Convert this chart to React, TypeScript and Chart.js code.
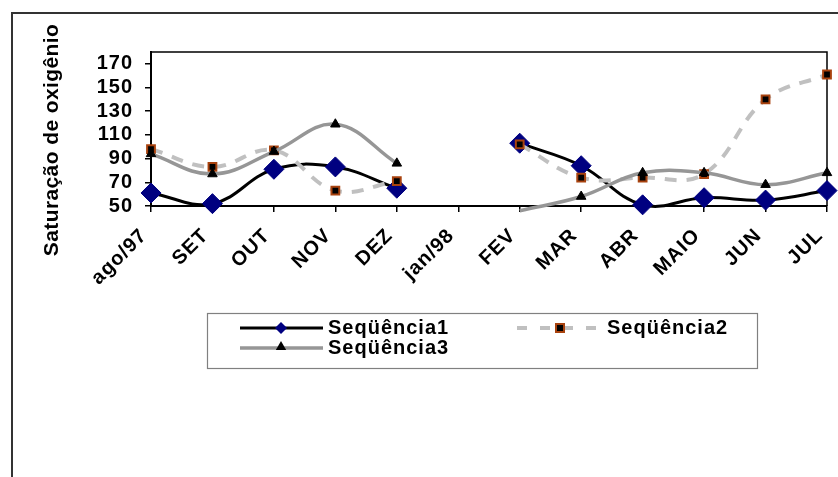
import React, { useEffect, useRef } from 'react';
import { Chart, registerables } from 'chart.js';

Chart.register(...registerables);

const categories = ['ago/97', 'SET', 'OUT', 'NOV', 'DEZ', 'jan/98', 'FEV', 'MAR', 'ABR', 'MAIO', 'JUN', 'JUL'];
const seq1 = [61, 52, 81, 83, 65, null, 103, 84, 51, 57, 55, 63];
const seq2 = [98, 83, 97, 63, 71, null, 102, 74, 74, 77, 140, 161];
const seq3 = [94, 77, 96, 119, 86, null, 46, 58, 78, 78, 68, 78];
const seriesNames = ['Seqüência1', 'Seqüência2', 'Seqüência3'];
const yTickValues = [50, 70, 90, 110, 130, 150, 170];
const yMin = 50;
const yMax = 180;
const yTitle = 'Saturação de oxigênio';

const FONT = '"Liberation Sans", Arial, sans-serif';
const C1 = '#000000';
const C1M = '#000080';
const C2 = '#c0c0c0';
const C2B = '#a8420e';
const C3 = '#969696';

function drawDiamond(ctx: CanvasRenderingContext2D, x: number, y: number, r: number) {
  ctx.beginPath();
  ctx.moveTo(x - r, y);
  ctx.lineTo(x, y - r);
  ctx.lineTo(x + r, y);
  ctx.lineTo(x, y + r);
  ctx.closePath();
  ctx.fillStyle = C1M;
  ctx.fill();
}

function drawSquare(ctx: CanvasRenderingContext2D, x: number, y: number, s: number) {
  ctx.fillStyle = '#000';
  ctx.fillRect(x - s / 2, y - s / 2, s, s);
  ctx.strokeStyle = C2B;
  ctx.lineWidth = 2;
  ctx.setLineDash([]);
  ctx.strokeRect(x - s / 2, y - s / 2, s, s);
}

function drawTriangle(ctx: CanvasRenderingContext2D, x: number, y: number, r: number) {
  ctx.beginPath();
  ctx.moveTo(x, y - r);
  ctx.lineTo(x + r * 0.866, y + r * 0.5);
  ctx.lineTo(x - r * 0.866, y + r * 0.5);
  ctx.closePath();
  ctx.fillStyle = '#000';
  ctx.fill();
}

const decorPlugin = {
  id: 'decor',
  beforeDraw(chart: any) {
    const ctx = chart.ctx;
    ctx.fillStyle = '#fff';
    ctx.fillRect(0, 0, chart.width, chart.height);
    (ctx as any).letterSpacing = '1px';
  },
  beforeDatasetsDraw(chart: any) {
    const ctx = chart.ctx;
    const a = chart.chartArea;
    ctx.save();
    ctx.strokeStyle = '#000';
    ctx.lineWidth = 1.5;
    ctx.beginPath();
    ctx.moveTo(a.left, a.top);
    ctx.lineTo(a.right, a.top);
    ctx.lineTo(a.right, a.bottom);
    ctx.stroke();
    ctx.restore();
  },
  afterDraw(chart: any) {
    const ctx = chart.ctx;
    ctx.save();
    ctx.strokeStyle = '#333';
    ctx.lineWidth = 2;
    ctx.strokeRect(12, 13, 900, 600);

    ctx.save();
    ctx.translate(52, 140);
    ctx.rotate(-Math.PI / 2);
    ctx.font = `bold 21px ${FONT}`;
    (ctx as any).letterSpacing = '0.4px';
    ctx.fillStyle = '#000';
    ctx.textAlign = 'center';
    ctx.textBaseline = 'middle';
    ctx.fillText(yTitle, 0, 0);
    ctx.restore();

    ctx.strokeStyle = '#808080';
    ctx.lineWidth = 1.2;
    ctx.strokeRect(207.5, 313.5, 550, 55);

    const r1 = 328;
    const r2 = 348;
    ctx.strokeStyle = C1;
    ctx.lineWidth = 3;
    ctx.beginPath();
    ctx.moveTo(240, r1);
    ctx.lineTo(323, r1);
    ctx.stroke();
    drawDiamond(ctx, 281, r1, 6);

    ctx.strokeStyle = C2;
    ctx.lineWidth = 4;
    ctx.setLineDash([10, 13]);
    ctx.beginPath();
    ctx.moveTo(517, r1);
    ctx.lineTo(600, r1);
    ctx.stroke();
    ctx.setLineDash([]);
    drawSquare(ctx, 560, r1, 8);

    ctx.strokeStyle = C3;
    ctx.lineWidth = 3.5;
    ctx.beginPath();
    ctx.moveTo(240, r2);
    ctx.lineTo(323, r2);
    ctx.stroke();
    drawTriangle(ctx, 281, r2 - 1, 6);

    ctx.font = `bold 20px ${FONT}`;
    (ctx as any).letterSpacing = '1px';
    ctx.fillStyle = '#000';
    ctx.textAlign = 'left';
    ctx.textBaseline = 'middle';
    ctx.fillText(seriesNames[0], 328, r1);
    ctx.fillText(seriesNames[1], 607, r1);
    ctx.fillText(seriesNames[2], 328, r2);
    ctx.restore();
  },
};

export default function App() {
  const ref = useRef<HTMLCanvasElement | null>(null);

  useEffect(() => {
    if (!ref.current) return;
    const chart = new Chart(ref.current, {
      type: 'line',
      data: {
        labels: categories,
        datasets: [
          {
            label: seriesNames[0],
            data: seq1,
            borderColor: C1,
            borderWidth: 3,
            tension: 0.4,
            pointStyle: 'rectRot',
            pointRadius: 10,
            pointBackgroundColor: C1M,
            pointBorderColor: C1M,
            pointBorderWidth: 1,
            clip: false,
            order: 3,
          },
          {
            label: seriesNames[1],
            data: seq2,
            borderColor: C2,
            borderWidth: 4,
            borderDash: [12, 10],
            tension: 0.4,
            pointStyle: 'rect',
            pointRadius: 5.5,
            pointBackgroundColor: '#000',
            pointBorderColor: C2B,
            pointBorderWidth: 2,
            clip: false,
            order: 2,
          },
          {
            label: seriesNames[2],
            data: seq3,
            borderColor: C3,
            borderWidth: 3.5,
            tension: 0.4,
            pointStyle: 'triangle',
            pointRadius: seq3.map((v) => (v !== null && v < yMin ? 0 : 5.5)),
            pointBackgroundColor: '#000',
            pointBorderColor: '#000',
            pointBorderWidth: 1,
            clip: false,
            order: 1,
          },
        ],
      },
      options: {
        responsive: false,
        animation: false,
        spanGaps: false,
        layout: { padding: { top: 52, right: 4, left: 0, bottom: 0 } },
        elements: { line: { capBezierPoints: false } },
        plugins: {
          legend: { display: false },
          tooltip: { enabled: false },
          title: { display: false },
        },
        scales: {
          x: {
            offset: false,
            grid: {
              drawOnChartArea: false,
              drawTicks: true,
              tickLength: 6,
              color: '#000',
              lineWidth: 1.5,
            },
            border: { display: true, color: '#000', width: 2 },
            ticks: {
              autoSkip: false,
              minRotation: 45,
              maxRotation: 45,
              padding: 12,
              labelOffset: -7,
              color: '#000',
              font: { family: FONT, size: 20, weight: 'bold' },
            },
            afterFit(scale: any) {
              scale.height = 477 - 206;
              scale.paddingLeft = 0;
              scale.paddingRight = 0;
            },
          },
          y: {
            min: yMin,
            max: yMax,
            grid: {
              drawOnChartArea: false,
              drawTicks: true,
              tickLength: 6,
              color: '#000',
              lineWidth: 1.5,
            },
            border: { display: true, color: '#000', width: 2 },
            ticks: {
              autoSkip: false,
              stepSize: 20,
              padding: 12,
              color: '#000',
              font: { family: FONT, size: 20, weight: 'bold' },
            },
            afterBuildTicks(scale: any) {
              scale.ticks = yTickValues.map((v) => ({ value: v }));
            },
            afterFit(scale: any) {
              scale.width = 151;
              scale.paddingTop = 0;
              scale.paddingBottom = 0;
            },
          },
        },
      },
      plugins: [decorPlugin],
    } as any);
    return () => chart.destroy();
  }, []);

  return (
    <div style={{ position: 'absolute', left: 0, top: 0, width: 838, height: 477 }}>
      <canvas ref={ref} width={838} height={477} />
    </div>
  );
}
